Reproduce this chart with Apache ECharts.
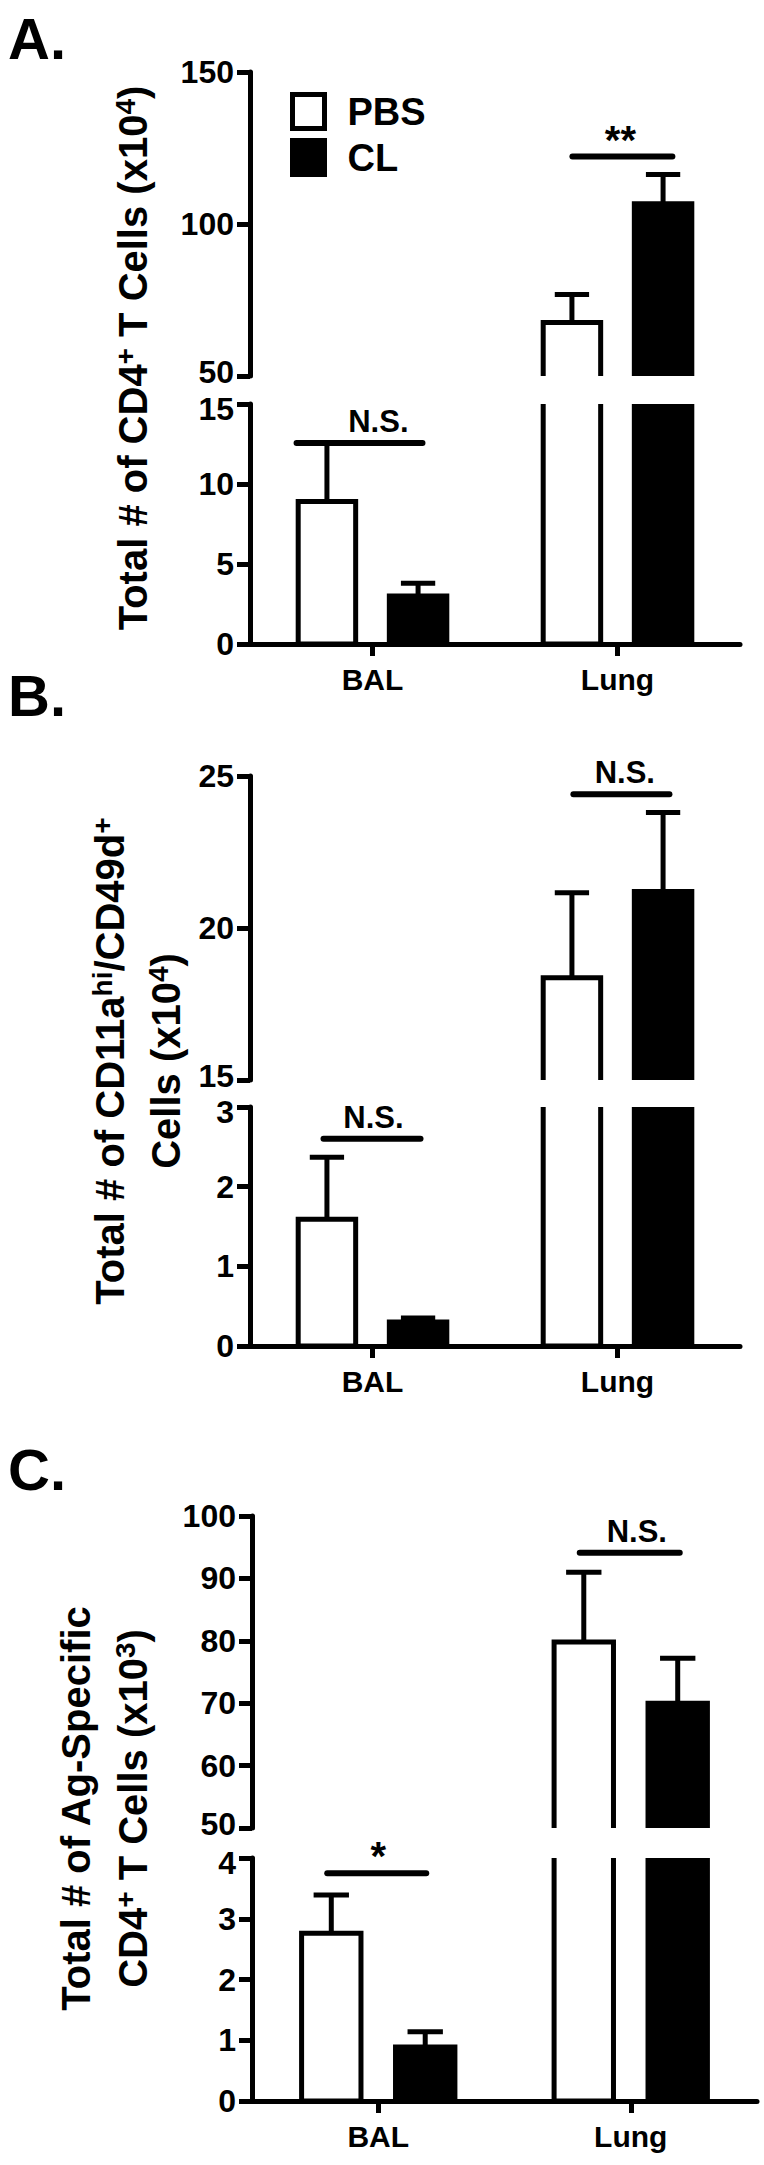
<!DOCTYPE html>
<html>
<head>
<meta charset="utf-8">
<script src="https://cdn.jsdelivr.net/npm/echarts@6/dist/echarts.min.js"></script>
<style>
html,body{margin:0;padding:0;background:#fff;}
#chart{width:764px;height:2165px;}
</style>
</head>
<body>
<div id="chart"></div>
<script>
// ---------------- DATA ----------------
const categories = ['BAL', 'Lung'];
const groupNames = ['PBS', 'CL'];

// Panel A: Total # of CD4+ T cells (x10^4)
const aPBS = [8.9, 67.6];
const aPBSErr = [3.7, 9.2];
const aCL = [3.0, 106.7];
const aCLErr = [0.8, 9.6];
const aUpperAxis = [50, 150, 50];   // min, max, interval
const aLowerAxis = [0, 15, 5];
const aSigText = ['N.S.', '**'];
const aSigLevel = [12.56, 122.2];

// Panel B: Total # of CD11a hi / CD49d+ cells (x10^4)
const bPBS = [1.59, 18.36];
const bPBSErr = [0.78, 2.8];
const bCL = [0.30, 21.2];
const bCLErr = [0.05, 2.6];
const bUpperAxis = [15, 25, 5];
const bLowerAxis = [0, 3, 1];
const bSigText = ['N.S.', 'N.S.'];
const bSigLevel = [2.6, 24.4];

// Panel C: Total # of Ag-specific CD4+ T cells (x10^3)
const cPBS = [2.76, 79.8];
const cPBSErr = [0.63, 11.2];
const cCL = [0.89, 70.0];
const cCLErr = [0.25, 7.2];
const cUpperAxis = [50, 100, 10];
const cLowerAxis = [0, 4, 1];
const cSigText = ['*', 'N.S.'];
const cSigLevel = [3.75, 94.1];

// ---------------- LAYOUT / STYLE ----------------
const FONT = '"Liberation Sans", Arial, Helvetica, sans-serif';
const LW = 5;
const SIG_LW = 6;
const BAR_W = 0.255;   // bar width as fraction of category band
const BAR_OFF = 0.186; // bar centre offset from category centre (fraction of band)
const CAP = 0.07;      // error cap half width (fraction of band)

const supPad = 14;
const rich = {
  t:  {fontSize: 40, fontWeight: 'bold', fontFamily: FONT, color: '#000', verticalAlign: 'bottom'},
  s:  {fontSize: 28, fontWeight: 'bold', fontFamily: FONT, color: '#000', verticalAlign: 'bottom', padding: [0, 0, supPad, 0]},
  tb: {fontSize: 40, fontWeight: 'bold', fontFamily: FONT, color: '#000', verticalAlign: 'bottom', padding: [16, 0, 0, 0]},
  tc: {fontSize: 40, fontWeight: 'bold', fontFamily: FONT, color: '#000', verticalAlign: 'bottom', padding: [17, 0, 0, 0]}
};

const panels = [
  {
    letter: 'A.', letterTop: 9,
    pbs: aPBS, pbsErr: aPBSErr, cl: aCL, clErr: aCLErr,
    upperAxis: aUpperAxis, lowerAxis: aLowerAxis,
    sigText: aSigText, sigLevel: aSigLevel,
    sigSpan: [[-0.31, 0.204, 0.024], [-0.184, 0.224, 0.012]],
    left: 250, width: 490,
    upper: {top: 72, height: 304}, lower: {top: 404, height: 240},
    name: '{t|Total # of CD4}{s|+}{t| T Cells (x10}{s|4}{t|)}',
    nameGap: 97
  },
  {
    letter: 'B.', letterTop: 666,
    pbs: bPBS, pbsErr: bPBSErr, cl: bCL, clErr: bCLErr,
    upperAxis: bUpperAxis, lowerAxis: bLowerAxis,
    sigText: bSigText, sigLevel: bSigLevel,
    sigSpan: [[-0.2, 0.196, 0.004], [-0.18, 0.212, 0.03]],
    left: 250, width: 490,
    upper: {top: 776, height: 304}, lower: {top: 1107, height: 239},
    name: '{t|Total # of CD11a}{s|hi}{t|/CD49d}{s|+}\n{tb|Cells (x10}{s|4}{tb|)}',
    nameGap: 64
  },
  {
    letter: 'C.', letterTop: 1440,
    pbs: cPBS, pbsErr: cPBSErr, cl: cCL, clErr: cCLErr,
    upperAxis: cUpperAxis, lowerAxis: cLowerAxis,
    sigText: cSigText, sigLevel: cSigLevel,
    sigSpan: [[-0.202, 0.19, 0.0], [-0.202, 0.194, 0.024]],
    left: 252, width: 505,
    upper: {top: 1516, height: 312}, lower: {top: 1858, height: 243},
    name: '{t|Total # of Ag-Specific}\n{tc|CD4}{s|+}{tc| T Cells (x10}{s|3}{tc|)}',
    nameGap: 99
  }
];

// ---------------- RENDERERS ----------------
function barRender(sign, fill) {
  return function (params, api) {
    const ci = api.value(0), v = api.value(1), e = api.value(2);
    const band = api.size([1, 0])[0];
    const p0 = api.coord([ci, 0]);
    const cx = p0[0] + sign * BAR_OFF * band;
    const w = BAR_W * band;
    const yTop = api.coord([ci, v])[1];
    const yErr = api.coord([ci, v + e])[1];
    const cap = CAP * band;
    return {
      type: 'group',
      children: [
        {type: 'rect', shape: {x: cx - w / 2 + LW / 2, y: yTop, width: w - LW, height: p0[1] - yTop},
         style: {fill: fill, stroke: '#000', lineWidth: LW}},
        {type: 'line', shape: {x1: cx, y1: yTop, x2: cx, y2: yErr}, style: {stroke: '#000', lineWidth: LW}},
        {type: 'line', shape: {x1: cx - cap, y1: yErr, x2: cx + cap, y2: yErr}, style: {stroke: '#000', lineWidth: LW}}
      ]
    };
  };
}

function sigRender(texts, spans) {
  return function (params, api) {
    const ci = api.value(0), lvl = api.value(1);
    const band = api.size([1, 0])[0];
    const p = api.coord([ci, lvl]);
    const sp = spans[ci];
    const isStar = /^\*+$/.test(texts[ci]);
    return {
      type: 'group',
      children: [
        {type: 'line', shape: {x1: p[0] + sp[0] * band, y1: p[1], x2: p[0] + sp[1] * band, y2: p[1]},
         style: {stroke: '#000', lineWidth: SIG_LW, lineCap: 'round'}},
        {type: 'text', style: {text: texts[ci], x: p[0] + sp[2] * band,
          y: isStar ? p[1] + 3 : p[1] - 6,
          align: 'center', verticalAlign: 'bottom',
          font: 'bold ' + (isStar ? 40 : 31) + 'px ' + FONT, fill: '#000'}}
      ]
    };
  };
}

// ---------------- OPTION ----------------
const grids = [], xAxes = [], yAxes = [], series = [], titles = [];

const tickRich = {
  lo: {fontSize: 32, fontWeight: 'bold', color: '#000', fontFamily: FONT, padding: [0, 0, 9, 0]},
  hi: {fontSize: 32, fontWeight: 'bold', color: '#000', fontFamily: FONT, padding: [9, 0, 0, 0]}
};

// part: 'upper' nudges its min label up, 'lower' nudges its max label down (labels at the axis break)
function valueAxis(gi, ax, part) {
  return {
    type: 'value', gridIndex: gi, min: ax[0], max: ax[1], interval: ax[2],
    axisLine: {show: true, onZero: false, lineStyle: {color: '#000', width: LW}},
    axisTick: {show: true, length: 13, lineStyle: {color: '#000', width: LW}},
    axisLabel: {
      show: true, margin: 16, fontSize: 32, fontWeight: 'bold', color: '#000', fontFamily: FONT,
      rich: tickRich,
      formatter: function (v) {
        if (part === 'upper' && v === ax[0]) return '{lo|' + v + '}';
        if (part === 'lower' && v === ax[1]) return '{hi|' + v + '}';
        return String(v);
      }
    },
    splitLine: {show: false}
  };
}

panels.forEach(function (p) {
  titles.push({text: p.letter, left: 8, top: p.letterTop, padding: 0,
    textStyle: {fontSize: 58, fontWeight: 'bold', color: '#000', fontFamily: FONT}});

  const gU = grids.length;
  grids.push({left: p.left, top: p.upper.top, width: p.width, height: p.upper.height, containLabel: false, outerBoundsMode: 'none'});
  xAxes.push({type: 'category', gridIndex: gU, data: categories, show: false});
  yAxes.push(valueAxis(gU, p.upperAxis, 'upper'));

  const gL = grids.length;
  grids.push({left: p.left, top: p.lower.top, width: p.width, height: p.lower.height, containLabel: false, outerBoundsMode: 'none'});
  xAxes.push({
    type: 'category', gridIndex: gL, data: categories,
    axisLine: {show: true, onZero: false, lineStyle: {color: '#000', width: LW}},
    axisTick: {show: true, alignWithLabel: true, length: 12, lineStyle: {color: '#000', width: LW}},
    axisLabel: {margin: 20, fontSize: 30, fontWeight: 'bold', color: '#000', fontFamily: FONT}
  });
  yAxes.push(valueAxis(gL, p.lowerAxis, 'lower'));

  const gN = grids.length;
  grids.push({left: p.left, top: p.upper.top, width: p.width,
    height: p.lower.top + p.lower.height - p.upper.top, containLabel: false, outerBoundsMode: 'none'});
  xAxes.push({type: 'value', gridIndex: gN, show: false});
  yAxes.push({
    type: 'value', gridIndex: gN, name: p.name, nameLocation: 'middle', nameGap: p.nameGap, nameRotate: 90,
    nameMoveOverlap: false,
    nameTextStyle: {rich: rich, fontFamily: FONT, fontWeight: 'bold', color: '#000', align: 'center'},
    axisLine: {show: false}, axisTick: {show: false}, axisLabel: {show: false}, splitLine: {show: false}
  });

  const pbsData = p.pbs.map(function (v, i) { return [i, v, p.pbsErr[i]]; });
  const clData = p.cl.map(function (v, i) { return [i, v, p.clErr[i]]; });
  [gU, gL].forEach(function (g) {
    series.push({type: 'custom', name: groupNames[0], xAxisIndex: g, yAxisIndex: g, clip: true,
      renderItem: barRender(-1, '#ffffff'), data: pbsData, silent: true});
    series.push({type: 'custom', name: groupNames[1], xAxisIndex: g, yAxisIndex: g, clip: true,
      renderItem: barRender(1, '#000000'), data: clData, silent: true});
  });

  const lowerMax = p.lowerAxis[1];
  const sigLower = [], sigUpper = [];
  p.sigLevel.forEach(function (lvl, i) {
    (lvl > lowerMax ? sigUpper : sigLower).push([i, lvl]);
  });
  series.push({type: 'custom', xAxisIndex: gU, yAxisIndex: gU, clip: false, silent: true,
    renderItem: sigRender(p.sigText, p.sigSpan), data: sigUpper});
  series.push({type: 'custom', xAxisIndex: gL, yAxisIndex: gL, clip: false, silent: true,
    renderItem: sigRender(p.sigText, p.sigSpan), data: sigLower});
});

const option = {
  animation: false,
  backgroundColor: '#ffffff',
  title: titles,
  legend: {
    data: [
      {name: 'PBS', icon: 'rect', itemStyle: {color: '#ffffff', borderColor: '#000', borderWidth: LW}},
      {name: 'CL', icon: 'rect', itemStyle: {color: '#000000', borderColor: '#000', borderWidth: LW}}
    ],
    orient: 'vertical', left: 290, top: 92, padding: 0,
    itemWidth: 32, itemHeight: 34, itemGap: 7, selectedMode: false,
    textStyle: {fontSize: 38, fontWeight: 'bold', color: '#000', fontFamily: FONT, padding: [0, 0, 0, 18]}
  },
  grid: grids,
  xAxis: xAxes,
  yAxis: yAxes,
  series: series
};

const chart = echarts.init(document.getElementById('chart'), null, {renderer: 'svg', width: 764, height: 2165});
chart.setOption(option);
</script>
</body>
</html>
